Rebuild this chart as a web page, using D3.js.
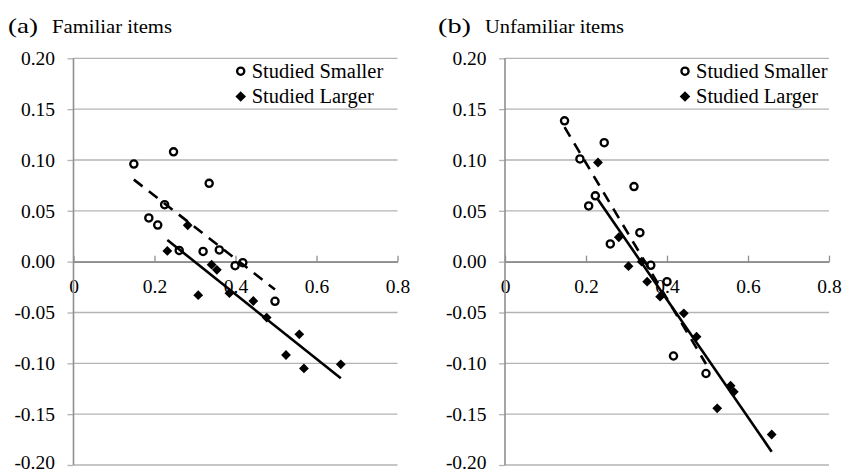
<!DOCTYPE html>
<html>
<head>
<meta charset="utf-8">
<script src="https://cdn.jsdelivr.net/npm/d3@7"></script>
<style>
  html, body { margin: 0; padding: 0; background: #fff; }
  svg { display: block; }
  svg text { font-family: "Liberation Serif", "Times New Roman", Tinos, "DejaVu Serif", serif; }
</style>
</head>
<body>
<svg id="chart" width="842" height="474"></svg>
<script>
// ---------- data ----------
const xTickValues = [0, 0.2, 0.4, 0.6, 0.8];
const xTickLabels = ["0", "0.2", "0.4", "0.6", "0.8"];
const yTickValues = [0.20, 0.15, 0.10, 0.05, 0.00, -0.05, -0.10, -0.15, -0.20];
const yTickLabels = ["0.20", "0.15", "0.10", "0.05", "0.00", "-0.05", "-0.10", "-0.15", "-0.20"];
const seriesNames = ["Studied Smaller", "Studied Larger"];
const panelLetters = ["(a)", "(b)"];
const panelTitles = ["Familiar items", "Unfamiliar items"];

// (a) Familiar items
const famSmallerX = [0.149, 0.247, 0.335, 0.225, 0.186, 0.208, 0.261, 0.320, 0.360, 0.418, 0.399, 0.4975];
const famSmallerY = [0.096, 0.108, 0.077, 0.056, 0.043, 0.036, 0.011, 0.010, 0.0115, -0.001, -0.004, -0.039];
const famLargerX  = [0.2317, 0.282, 0.341, 0.354, 0.308, 0.385, 0.444, 0.477, 0.5575, 0.5247, 0.569, 0.660];
const famLargerY  = [0.0105, 0.0358, -0.003, -0.008, -0.033, -0.031, -0.0387, -0.055, -0.0715, -0.0918, -0.105, -0.101];

// (b) Unfamiliar items
const unfSmallerX = [0.147, 0.245, 0.185, 0.3185, 0.223, 0.2066, 0.333, 0.260, 0.360, 0.400, 0.416, 0.4963];
const unfSmallerY = [0.1385, 0.117, 0.101, 0.0738, 0.0647, 0.0548, 0.0285, 0.0174, -0.0036, -0.0197, -0.0928, -0.110];
const unfLargerX  = [0.2296, 0.281, 0.3375, 0.305, 0.351, 0.383, 0.4415, 0.473, 0.557, 0.565, 0.524, 0.6585];
const unfLargerY  = [0.0975, 0.024, 0.000, -0.0045, -0.0197, -0.0344, -0.0508, -0.0738, -0.122, -0.128, -0.1443, -0.170];

// ---------- layout ----------
const FONT = "'Liberation Serif', 'Times New Roman', Tinos, 'DejaVu Serif', serif";
const svg = d3.select("#chart");
const panels = [
  { left: 73.5, letterX: 8, letterW: 30, titleX: 52, titleW: 120, legendX: 240.7,
    smallerX: famSmallerX, smallerY: famSmallerY, largerX: famLargerX, largerY: famLargerY },
  { left: 505, letterX: 438, letterW: 33, titleX: 485, titleW: 139, legendX: 685,
    smallerX: unfSmallerX, smallerY: unfSmallerY, largerX: unfLargerX, largerY: unfLargerY }
];
const plotW = 324, yTop = 58.3, yBot = 465;
const gridColor = "#b3b3b3", axisColor = "#8f8f8f";

function zip(xs, ys) { return xs.map((x, i) => ({ x: x, y: ys[i] })); }
function fit(pts) {
  const mx = d3.mean(pts, d => d.x), my = d3.mean(pts, d => d.y);
  const b = d3.sum(pts, d => (d.x - mx) * (d.y - my)) / d3.sum(pts, d => (d.x - mx) ** 2);
  const a = my - b * mx;
  const [x0, x1] = d3.extent(pts, d => d.x);
  return [{ x: x0, y: a + b * x0 }, { x: x1, y: a + b * x1 }];
}
const diamond = d3.symbol(d3.symbolSquare, 48);

panels.forEach((p, pi) => {
  const x = d3.scaleLinear().domain([0, 0.8]).range([p.left, p.left + plotW]);
  const y = d3.scaleLinear().domain([-0.2, 0.2]).range([yBot, yTop]);
  const g = svg.append("g").attr("font-family", FONT);

  // title
  g.append("text").attr("x", p.letterX).attr("y", 33)
    .attr("font-size", 22).attr("textLength", p.letterW).attr("lengthAdjust", "spacingAndGlyphs")
    .text(panelLetters[pi]);
  g.append("text").attr("x", p.titleX).attr("y", 33)
    .attr("font-size", 18.5).attr("textLength", p.titleW).attr("lengthAdjust", "spacingAndGlyphs")
    .text(panelTitles[pi]);

  // gridlines
  g.append("g").selectAll("line").data(yTickValues).join("line")
    .attr("x1", x(0)).attr("x2", x(0.8))
    .attr("y1", d => y(d)).attr("y2", d => y(d))
    .attr("stroke", gridColor).attr("stroke-width", 1.3);

  // y axis
  const yAxis = d3.axisLeft(y).tickValues(yTickValues)
    .tickFormat((d, i) => yTickLabels[i]).tickSize(6).tickPadding(12.5);
  const ya = g.append("g").attr("transform", `translate(${x(0)},0)`).call(yAxis);
  ya.attr("font-family", FONT);
  ya.select(".domain").remove();
  ya.selectAll(".tick line").attr("stroke", gridColor).attr("stroke-width", 1.3);
  ya.selectAll("text").attr("font-size", 19.5).attr("fill", "#000");
  // keep the lowest label inside the picture's bottom edge
  ya.selectAll("text").filter(d => d === -0.2).attr("dy", "0.2em");

  // x axis at y = 0
  const xAxis = d3.axisBottom(x).tickValues(xTickValues)
    .tickFormat((d, i) => xTickLabels[i]).tickSizeInner(-6).tickSizeOuter(0).tickPadding(17.5);
  const xa = g.append("g").attr("transform", `translate(0,${y(0)})`).call(xAxis);
  xa.attr("font-family", FONT);
  xa.select(".domain").attr("stroke", axisColor).attr("stroke-width", 1.6);
  xa.selectAll(".tick line").attr("stroke", axisColor).attr("stroke-width", 1.3);
  xa.selectAll("text").attr("font-size", 19.5).attr("fill", "#000");

  // y axis line
  g.append("line").attr("x1", x(0)).attr("x2", x(0)).attr("y1", y(0.2)).attr("y2", y(-0.2))
    .attr("stroke", axisColor).attr("stroke-width", 1.6);

  const sm = zip(p.smallerX, p.smallerY);
  const lg = zip(p.largerX, p.largerY);

  // points
  g.append("g").selectAll("path").data(lg).join("path")
    .attr("d", diamond)
    .attr("transform", d => `translate(${x(d.x)},${y(d.y)}) rotate(45)`)
    .attr("fill", "#000");
  g.append("g").selectAll("circle").data(sm).join("circle")
    .attr("cx", d => x(d.x)).attr("cy", d => y(d.y)).attr("r", 3.6)
    .attr("fill", "#fff").attr("stroke", "#000").attr("stroke-width", 2.3);

  // trend lines
  const line = d3.line().x(d => x(d.x)).y(d => y(d.y));
  g.append("path").attr("d", line(fit(sm))).attr("fill", "none")
    .attr("stroke", "#000").attr("stroke-width", 2.6).attr("stroke-dasharray", "11,8");
  g.append("path").attr("d", line(fit(lg))).attr("fill", "none")
    .attr("stroke", "#000").attr("stroke-width", 2.6);

  // legend
  const lgd = g.append("g");
  lgd.append("circle").attr("cx", p.legendX).attr("cy", 71.2).attr("r", 3.6)
    .attr("fill", "#fff").attr("stroke", "#000").attr("stroke-width", 2.3);
  lgd.append("path").attr("d", d3.symbol(d3.symbolSquare, 56)())
    .attr("transform", `translate(${p.legendX},96.5) rotate(45)`).attr("fill", "#000");
  lgd.append("text").attr("x", p.legendX + 11).attr("y", 77.5).attr("font-size", 20.5)
    .text(seriesNames[0]);
  lgd.append("text").attr("x", p.legendX + 11).attr("y", 102.5).attr("font-size", 20.5)
    .text(seriesNames[1]);
});
</script>
</body>
</html>
